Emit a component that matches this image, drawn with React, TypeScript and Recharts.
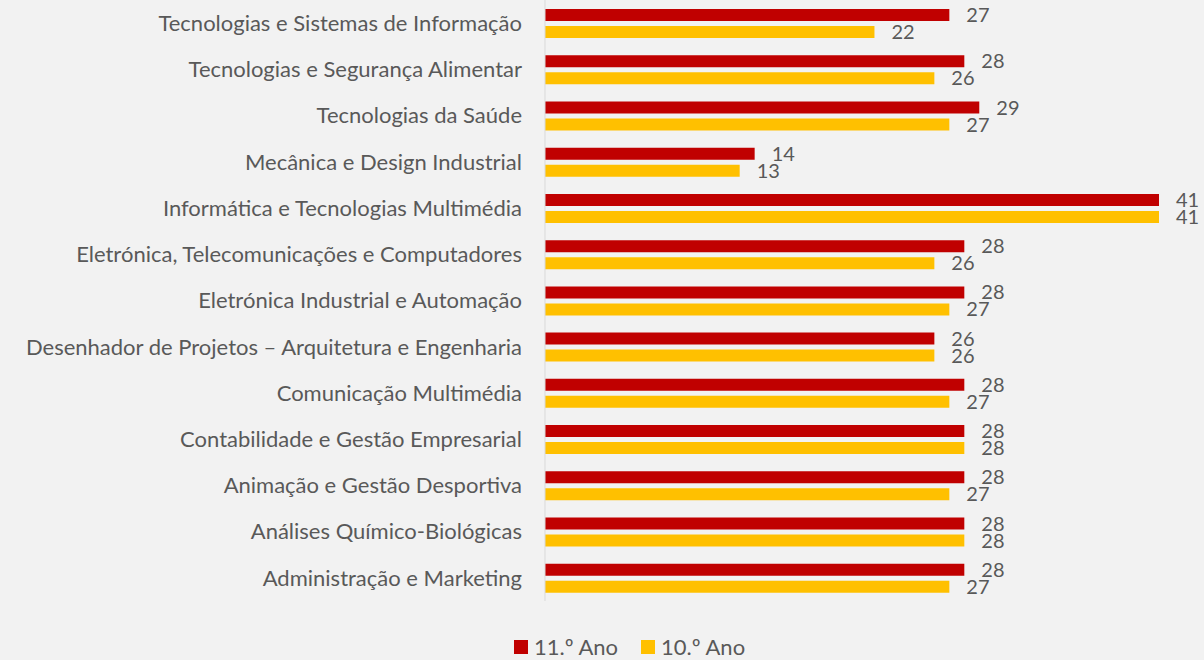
import { BarChart, Bar, XAxis, YAxis, Legend, LabelList } from "recharts";

const cursos = [
  "Tecnologias e Sistemas de Informação",
  "Tecnologias e Segurança Alimentar",
  "Tecnologias da Saúde",
  "Mecânica e Design Industrial",
  "Informática e Tecnologias Multimédia",
  "Eletrónica, Telecomunicações e Computadores",
  "Eletrónica Industrial e Automação",
  "Desenhador de Projetos – Arquitetura e Engenharia",
  "Comunicação Multimédia",
  "Contabilidade e Gestão Empresarial",
  "Animação e Gestão Desportiva",
  "Análises Químico-Biológicas",
  "Administração e Marketing",
];

const ano11 = [27, 28, 29, 14, 41, 28, 28, 26, 28, 28, 28, 28, 28];
const ano10 = [22, 26, 27, 13, 41, 26, 27, 26, 27, 28, 27, 28, 27];

const series = [
  { key: "ano11", name: "11.º Ano", color: "#C00000" },
  { key: "ano10", name: "10.º Ano", color: "#FFC000" },
];

const data = cursos.map((name, i) => ({ name, ano11: ano11[i], ano10: ano10[i] }));

const TEXT = "#595959";
const FONT = "Lato, 'Open Sans', sans-serif";

function LegendBox() {
  return (
    <div style={{ display: "flex", alignItems: "center", fontSize: 22, color: TEXT, lineHeight: "22px" }}>
      {series.map((s) => (
        <div key={s.key} style={{ display: "flex", alignItems: "center", marginRight: 23 }}>
          <span style={{ width: 14, height: 14, background: s.color, display: "inline-block", marginRight: 6 }} />
          <span>{s.name}</span>
        </div>
      ))}
    </div>
  );
}

export default function App() {
  return (
    <div
      style={{
        position: "absolute",
        left: 0,
        top: 0,
        width: 1204,
        height: 660,
        background: "#F2F2F2",
        fontFamily: FONT,
      }}
    >
      <BarChart
        width={1204}
        height={660}
        data={data}
        layout="vertical"
        margin={{ top: 0, right: 45, bottom: 37, left: 0 }}
        barSize={12}
        barGap={5}
      >
        <XAxis type="number" domain={[0, 41]} hide />
        <YAxis
          type="category"
          dataKey="name"
          width={545}
          axisLine={{ stroke: "#D9D9D9" }}
          tickLine={false}
          tickSize={0}
          tickMargin={23}
          interval={0}
          tick={{ fill: TEXT, fontSize: 22 }}
        />
        <Legend
          verticalAlign="bottom"
          content={() => <LegendBox />}
          wrapperStyle={{ left: 514, top: 636, width: "auto" }}
        />
        {series.map((s) => (
          <Bar key={s.key} dataKey={s.key} name={s.name} fill={s.color} isAnimationActive={false}>
            <LabelList dataKey={s.key} position="right" offset={17} fill={TEXT} fontSize={20} />
          </Bar>
        ))}
      </BarChart>
    </div>
  );
}
